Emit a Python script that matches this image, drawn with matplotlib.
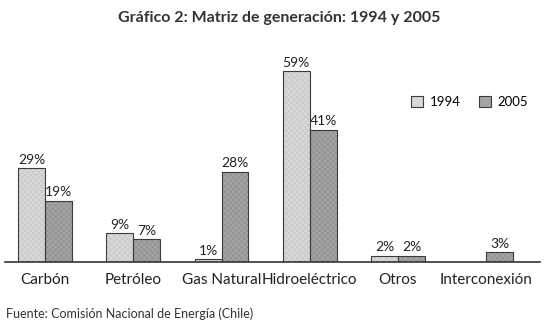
import matplotlib.pyplot as plt
import numpy as np
from matplotlib.patches import Patch

categories = ["Carbón", "Petróleo", "Gas Natural", "Hidroeléctrico", "Otros", "Interconexión"]
vals_1994 = [29, 9, 1, 59, 2, 0]
vals_2005 = [19, 7, 28, 41, 2, 3]
years = ["1994", "2005"]

plt.rcParams["font.family"] = ["Lato", "DejaVu Sans"]
plt.rcParams["hatch.linewidth"] = 0.3

light = "#d8d8d8"
dark = "#a4a4a4"
edge = "#3a3a3a"

fig = plt.figure(figsize=(5.59, 3.29), dpi=100)
ax = fig.add_axes([5 / 559, 67 / 329, 535 / 559, 222 / 329])

x = np.arange(len(categories))
w = 0.305
# fill, then fine texture, then outline
ax.bar(x - w / 2, vals_1994, w, color=light, linewidth=0)
ax.bar(x + w / 2, vals_2005, w, color=dark, linewidth=0)
ax.bar(x - w / 2, vals_1994, w, facecolor="none", edgecolor="#bcbcbc", hatch="xxxxxx", linewidth=0)
ax.bar(x + w / 2, vals_2005, w, facecolor="none", edgecolor="#838383", hatch="xxxxxx", linewidth=0)
ax.bar(x - w / 2, vals_1994, w, facecolor="none", edgecolor=edge, linewidth=0.8)
ax.bar(x + w / 2, [v if v > 0 else np.nan for v in vals_2005], w, facecolor="none", edgecolor=edge, linewidth=0.8)

for xi, v in zip(x, vals_1994):
    if v > 0:
        ax.text(xi - w / 2, v + 0.7, f"{v}%", ha="center", va="bottom", fontsize=10, color="#222222")
for xi, v in zip(x, vals_2005):
    if v > 0:
        ax.text(xi + w / 2, v + 0.7, f"{v}%", ha="center", va="bottom", fontsize=10, color="#222222")

ax.set_xlim(-0.455, 5.61)
ax.set_ylim(0, 68.7)
ax.set_xticks(x)
ax.set_xticklabels(categories, fontsize=11, color="#222222")
ax.tick_params(axis="x", length=0, pad=8)
ax.set_yticks([])
for s in ["top", "right", "left"]:
    ax.spines[s].set_visible(False)
ax.spines["bottom"].set_color("#333333")
ax.spines["bottom"].set_linewidth(1.2)

handles = [Patch(facecolor=light, edgecolor=edge, linewidth=0.8),
           Patch(facecolor=dark, edgecolor=edge, linewidth=0.8)]
ax.legend(handles, years, loc="upper right", bbox_to_anchor=(1.0, 0.8), ncol=2,
          frameon=False, fontsize=9.5, handlelength=0.9, handleheight=0.9,
          columnspacing=1.4, handletextpad=0.5)

fig.text(0.5, 0.945, "Gráfico 2: Matriz de generación: 1994 y 2005", ha="center",
         va="center", fontsize=11.5, fontweight="bold", color="#333333")
fig.text(6 / 559, 0.045, "Fuente: Comisión Nacional de Energía (Chile)", ha="left",
         va="center", fontsize=9, color="#333333")

fig.savefig("out.png", dpi=100, facecolor="white")
